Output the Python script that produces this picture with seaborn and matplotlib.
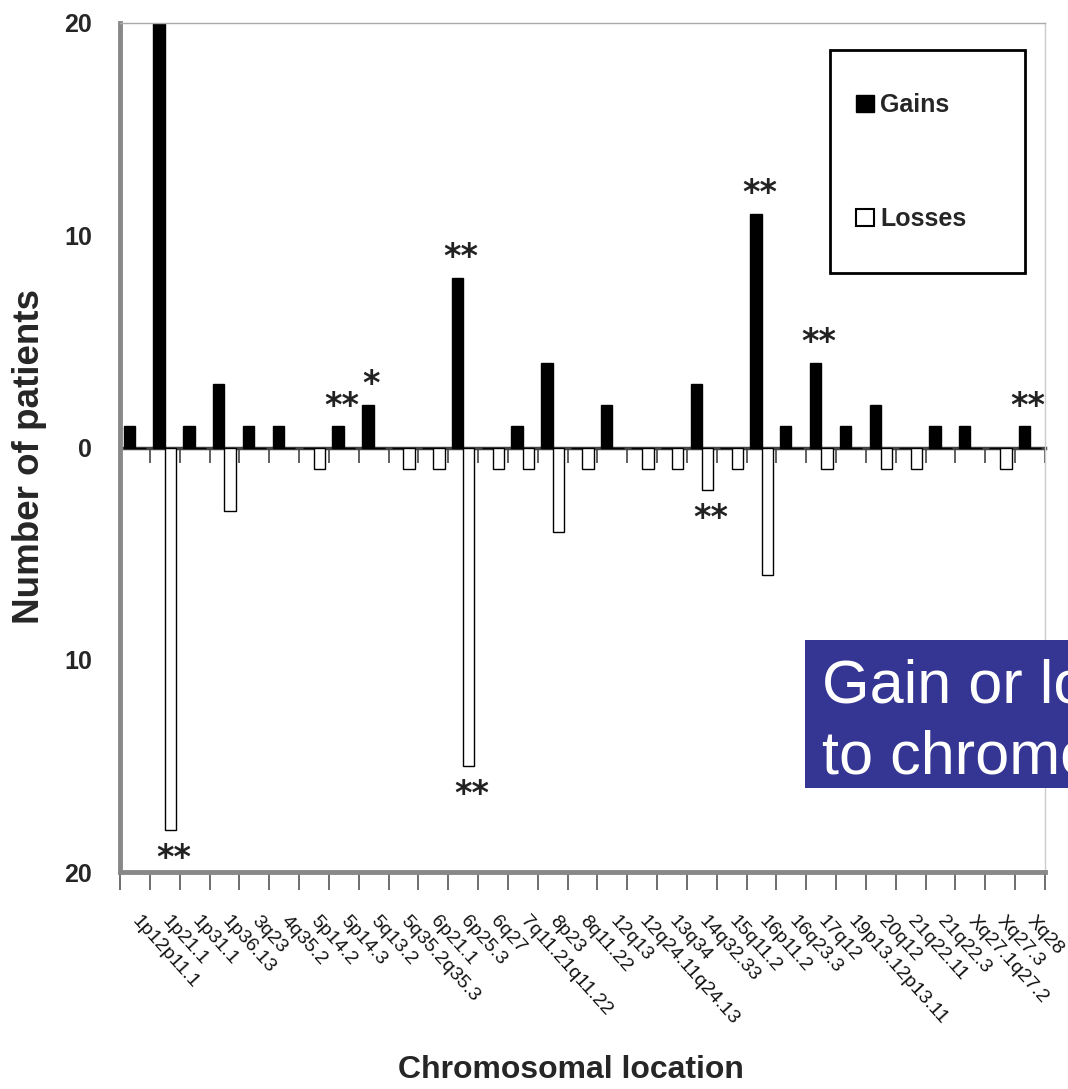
"""
Gains and losses by chromosomal location
Recreated bar chart (gains above zero, losses below)
"""

import numpy as np
import pandas as pd
import matplotlib
matplotlib.use('Agg')
import matplotlib.pyplot as plt
from matplotlib.patches import Patch, Rectangle
import seaborn as sns

# Data
locations = ['1p12p11.1', '1p21.1', '1p31.1', '1p36.13', '3q23', '4q35.2',
             '5p14.2', '5p14.3', '5q13.2', '5q35.2q35.3', '6p21.1', '6p25.3',
             '6q27', '7q11.21q11.22', '8p23', '8q11.22', '12q13',
             '12q24.11q24.13', '13q34', '14q32.33', '15q11.2', '16p11.2',
             '16q23.3', '17q12', '19p13.12p13.11', '20q12', '21q22.11',
             '21q22.3', 'Xq27.1q27.2', 'Xq27.3', 'Xq28']
gains = [1, 20, 1, 3, 1, 1, 0, 1, 2, 0, 0, 8, 0, 1, 4, 0, 2, 0, 0, 3, 0, 11,
         1, 4, 1, 2, 0, 1, 1, 0, 1]
losses = [0, 18, 0, 3, 0, 0, 1, 0, 0, 1, 1, 15, 1, 1, 4, 1, 0, 1, 1, 2, 1, 6,
          0, 1, 0, 1, 1, 0, 0, 1, 0]

# significance marks: (location, series, text)
star_locs = ['5p14.3', '5q13.2', '6p25.3', '6p25.3', '1p21.1', '14q32.33',
             '16p11.2', '17q12', 'Xq28']
star_series = ['Gains', 'Gains', 'Gains', 'Losses', 'Losses', 'Losses',
               'Gains', 'Gains', 'Gains']
star_text = ['**', '*', '**', '**', '**', '**', '**', '**', '**']

y_ticks = [20, 10, 0, -10, -20]
y_tick_labels = ['20', '10', '0', '10', '20']

caption_lines = ['Gain or loss according', 'to chromosomal location']

W, H = 1068, 1089

sns.set_style('white')
plt.rcParams['font.family'] = ['Liberation Sans', 'DejaVu Sans']

df = pd.DataFrame({
    'Location': locations * 2,
    'Type': ['Gains'] * len(locations) + ['Losses'] * len(locations),
    'Count': gains + [-v for v in losses],
})

fig = plt.figure(figsize=(W / 100, H / 100), dpi=100)
ax = fig.add_axes([120 / W, 1 - 872 / H, 925 / W, 849 / H])

sns.barplot(data=df, x='Location', y='Count', hue='Type', order=locations,
            hue_order=['Gains', 'Losses'],
            palette={'Gains': 'black', 'Losses': 'white'},
            dodge=True, width=0.76, edgecolor='black', linewidth=1,
            errorbar=None, legend=False, ax=ax)

n = len(locations)
ax.set_xlim(-0.5, n - 0.5)
ax.set_ylim(-20, 20)

# y axis
ax.set_yticks(y_ticks)
ax.set_yticklabels(y_tick_labels, fontsize=18, fontweight='bold')
ax.tick_params(axis='y', length=5, width=1, color='#666', pad=15)

# x axis: labels at centres, tick marks at boundaries
ax.set_xticks(range(n))
ax.set_xticklabels(locations, rotation=-48, ha='left', va='center',
                   rotation_mode='anchor', fontsize=14, color='#111')
ax.set_xticks(np.arange(n + 1) - 0.5, minor=True)
ax.tick_params(axis='x', which='major', length=0, pad=33)
ax.tick_params(axis='x', which='minor', length=13, width=1.2, color='#555',
               direction='out', bottom=True)

# zero line with its own tick marks
zero = ax.secondary_xaxis(0.5)
zero.set_alignment('bottom')
zero.set_xticks(np.arange(n + 1) - 0.5)
zero.set_xticklabels([])
zero.tick_params(length=11, width=1.2, color='#444', direction='out')
zero.spines['bottom'].set_color('#444')
zero.spines['bottom'].set_linewidth(2.5)

for side in ['left', 'bottom']:
    ax.spines[side].set_color('#888')
    ax.spines[side].set_linewidth(3.5)
ax.spines['top'].set_color('#aaa')
ax.spines['top'].set_linewidth(1)
ax.spines['right'].set_color('#ccc')
ax.spines['right'].set_linewidth(1)

# significance stars
for loc, series, txt in zip(star_locs, star_series, star_text):
    i = locations.index(loc)
    if series == 'Gains':
        x = i - 0.07
        y = gains[i] + 0.95
    else:
        x = i + 0.29
        y = -(losses[i] + 1.35)
    ax.text(x, y, txt, ha='center', va='center', fontsize=24,
            fontweight='bold', family='DejaVu Sans', color='#222')

ax.set_ylabel('Number of patients', fontsize=26.5, fontweight='bold')
ax.yaxis.set_label_coords(-0.079, 0.489)
ax.set_xlabel('Chromosomal location', fontsize=23, fontweight='bold')
ax.xaxis.set_label_coords(0.488, -0.215)

# legend box drawn separately so the entries sit to the left as in the original
ax.add_patch(Rectangle((0.7676, 0.7055), 0.2108, 0.2627,
                       transform=ax.transAxes, facecolor='white',
                       edgecolor='black', linewidth=2, zorder=4))
handles = [Patch(facecolor='black', edgecolor='black', label='Gains'),
           Patch(facecolor='white', edgecolor='black', linewidth=1.5,
                 label='Losses')]
leg = ax.legend(handles=handles, loc='upper left',
                bbox_to_anchor=(0.796, 0.917), borderaxespad=0,
                borderpad=0, labelspacing=3.6, handlelength=0.7,
                handleheight=0.7, handletextpad=0.25, frameon=False,
                prop={'weight': 'bold', 'size': 18})
leg.set_zorder(5)

# blue caption box, running off the right edge
fig.patches.append(Rectangle((805 / W, 1 - 788 / H), 0.4, 148 / H,
                             transform=fig.transFigure, facecolor='#353594',
                             edgecolor='none', zorder=5))
for k, line in enumerate(caption_lines):
    fig.text(822 / W, 1 - (703 + 70 * k) / H, line, ha='left',
             va='baseline', fontsize=44, color='white', zorder=6)

fig.savefig('out.png', dpi=100)
plt.close(fig)
